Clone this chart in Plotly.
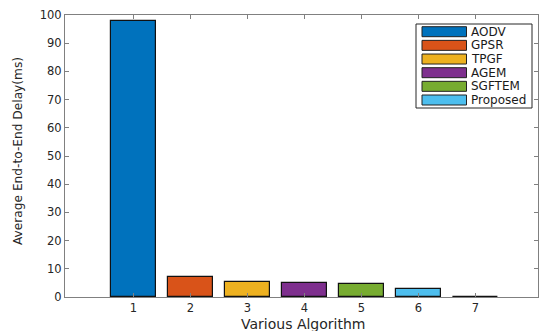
import plotly.graph_objects as go

categories = [1, 2, 3, 4, 5, 6, 7]
names = ["AODV", "GPSR", "TPGF", "AGEM", "SGFTEM", "Proposed"]
delays = [98.0, 7.0, 5.4, 4.85, 4.7, 2.8, 0.15]
colors = ["#0072BD", "#D95319", "#EDB120", "#7E2F8E", "#77AC30", "#4DBEEE", "#A2142F"]
y_ticks = [0, 10, 20, 30, 40, 50, 60, 70, 80, 90, 100]
x_title = "Various Algorithm"
y_title = "Average End-to-End Delay(ms)"

W, H = 544, 331
L, R, T, B = 65, 538, 15, 297
FONT = "DejaVu Sans, Liberation Sans, Arial, sans-serif"

fig = go.Figure()
fig.add_trace(go.Bar(
    x=categories, y=delays, width=0.8,
    marker=dict(color=colors, line=dict(color="#111111", width=1.2)),
    showlegend=False, hoverinfo="skip",
))

axis_col = "#808080"
fig.update_xaxes(range=[-0.2, 8.1], tickvals=categories, ticks="inside", ticklen=4,
                 tickcolor=axis_col, showline=True, linecolor=axis_col, linewidth=1,
                 mirror="ticks", showgrid=False, zeroline=False, automargin=False,
                 tickfont=dict(size=11.5, color="#262626"))
fig.update_yaxes(range=[0, 100], tickvals=y_ticks, ticks="inside", ticklen=4,
                 tickcolor=axis_col, showline=True, linecolor=axis_col, linewidth=1,
                 mirror="ticks", showgrid=False, zeroline=False, automargin=False,
                 tickfont=dict(size=11.5, color="#262626"))

def px_x(p):
    return (p - L) / (R - L)

def px_y(p):
    return (B - p) / (B - T)

shapes = []
annotations = []
# axis titles
annotations.append(dict(text=x_title, xref="paper", yref="paper", x=px_x(303), y=px_y(324),
                        xanchor="center", yanchor="middle", showarrow=False,
                        font=dict(size=14, color="#262626")))
annotations.append(dict(text=y_title, xref="paper", yref="paper", x=px_x(18), y=px_y(151),
                        xanchor="center", yanchor="middle", showarrow=False, textangle=-90,
                        font=dict(size=12.2, color="#262626")))
# legend box
shapes.append(dict(type="rect", xref="paper", yref="paper",
                   x0=px_x(416), x1=px_x(532), y0=px_y(108), y1=px_y(24),
                   line=dict(color="#262626", width=1), fillcolor="white", layer="above"))
for i, n in enumerate(names):
    cy = 31.7 + i * 13.66
    shapes.append(dict(type="rect", xref="paper", yref="paper",
                       x0=px_x(422), x1=px_x(466.5), y0=px_y(cy + 5), y1=px_y(cy - 5),
                       line=dict(color="#222222", width=1), fillcolor=colors[i], layer="above"))
    annotations.append(dict(text=n, xref="paper", yref="paper", x=px_x(469), y=px_y(cy),
                            xanchor="left", yanchor="middle", showarrow=False,
                            font=dict(size=12, color="#1a1a1a")))

fig.update_layout(
    width=W, height=H,
    margin=dict(l=L, r=W - R, t=T, b=H - B, autoexpand=False),
    paper_bgcolor="white", plot_bgcolor="white",
    font=dict(family=FONT),
    shapes=shapes, annotations=annotations, bargap=0,
)

fig.write_html("out.html", config={"displayModeBar": False},
               post_script="document.body.style.margin='0';")
